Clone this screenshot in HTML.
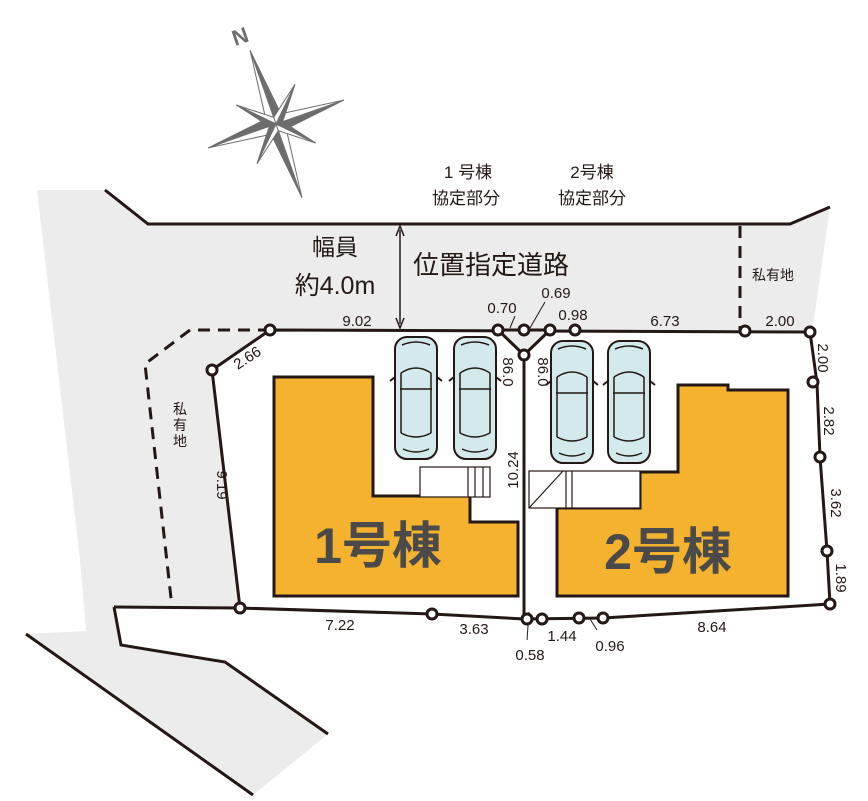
<!DOCTYPE html>
<html><head><meta charset="utf-8"><style>
html,body{margin:0;padding:0;background:#fff;}
svg{display:block;}
text{font-family:"Liberation Sans","Noto Sans CJK JP",sans-serif;fill:#231815;}
</style></head><body>
<svg width="868" height="801" viewBox="0 0 868 801" xmlns="http://www.w3.org/2000/svg">
<defs>
<g id="car">
<rect x="0" y="0" width="42" height="122" rx="12" fill="#d3e9ec" stroke="#231815" stroke-width="2"/>
<path d="M6 36 Q21 26 36 36 M5 52 L37 52 M6 96 Q21 104 36 96 M7 8 Q21 2 35 8 M8 112 Q21 118 34 112" fill="none" stroke="#231815" stroke-width="1.5"/>
<line x1="6" y1="36" x2="6" y2="96" stroke="#231815" stroke-width="1.5"/>
<line x1="36" y1="36" x2="36" y2="96" stroke="#231815" stroke-width="1.5"/>
<path d="M0 40 L-5 44 M42 40 L47 44" stroke="#231815" stroke-width="2"/>
</g>
</defs>
<polygon points="37,190 105,190 148,224 790,224 830,207 812,333 270,333 212,370 240,608 114,607 121,645 225,662 328,734 253,795 26,634 86,631 80,560" fill="#ececec"/>
<polygon points="270,330 212,370 240,608 432,614 524,619 603,618 830,604 827,551 820,457 817,383 810,332" fill="#fff"/>
<polyline points="105,190 148,224 790,224 830,207" fill="none" stroke="#231815" stroke-width="3"/>
<polyline points="114,607 240,608" fill="none" stroke="#231815" stroke-width="3"/>
<polyline points="114,607 121,645 225,662 328,734" fill="none" stroke="#231815" stroke-width="3"/>
<line x1="26" y1="634" x2="253" y2="795" stroke="#231815" stroke-width="3"/>
<polyline points="270,330 190,330 145,364 172,607" fill="none" stroke="#231815" stroke-width="3" stroke-dasharray="12,8"/>
<line x1="740" y1="226" x2="740" y2="330" stroke="#231815" stroke-width="3" stroke-dasharray="12,8"/>
<polygon points="274,377 373,377 373,496 470,496 470,522 518,522 518,596 274,596" fill="#f5b22e" stroke="#231815" stroke-width="3"/>
<polygon points="678,385 728,385 728,390 788,390 788,596 557,596 557,508 640,508 640,472 678,472" fill="#f5b22e" stroke="#231815" stroke-width="3"/>
<rect x="420" y="467" width="70" height="30" fill="#fff" stroke="#231815" stroke-width="1.2"/>
<path d="M468 467V497M475 467V497M483 467V497" stroke="#231815" stroke-width="1.2"/>
<rect x="529" y="471" width="111" height="37" fill="#fff" stroke="#231815" stroke-width="1.2"/>
<path d="M529 508L563 471M566 471V508M572 471V508" stroke="#231815" stroke-width="1.2"/>
<use href="#car" x="395" y="337"/>
<use href="#car" x="454" y="337"/>
<use href="#car" x="551" y="341"/>
<use href="#car" x="608" y="341"/>
<polygon points="270,330 212,370 240,608 432,614 524,619 603,618 830,604 827,551 820,457 817,383 810,332" fill="none" stroke="#231815" stroke-width="3"/>
<line x1="524" y1="355" x2="524" y2="619" stroke="#231815" stroke-width="3"/>
<polygon points="498,330 550,330 524,355" fill="#ececec" stroke="#231815" stroke-width="3"/>
<line x1="400" y1="230" x2="400" y2="324" stroke="#231815" stroke-width="1.5"/>
<path d="M396 236 L400 226 L404 236 M396 318 L400 328 L404 318" fill="none" stroke="#231815" stroke-width="1.5"/>
<path d="M510 328 L515 316 M530 328 L545 302 M529 612 L527 640 M590 619 L597 630" stroke="#231815" stroke-width="1"/>
<g fill="#fff" stroke="#231815" stroke-width="3">
<circle cx="270" cy="330" r="5"/><circle cx="212" cy="370" r="5"/><circle cx="240" cy="608" r="5"/>
<circle cx="432" cy="614" r="5"/><circle cx="527" cy="619" r="5"/><circle cx="542" cy="619" r="5"/>
<circle cx="579" cy="618" r="5"/><circle cx="603" cy="618" r="5"/><circle cx="830" cy="604" r="5"/>
<circle cx="827" cy="551" r="5"/><circle cx="820" cy="457" r="5"/><circle cx="813" cy="382" r="5"/>
<circle cx="810" cy="332" r="5"/><circle cx="745" cy="331" r="5"/>
<circle cx="498" cy="330" r="5"/><circle cx="524" cy="330" r="5"/><circle cx="550" cy="330" r="5"/><circle cx="575" cy="330" r="5"/><circle cx="524" cy="355" r="5"/>
</g>
<g transform="translate(276,124) rotate(-19.4)" fill="#6d6d6d" stroke="#6d6d6d" stroke-width="1">
<polygon points="0,-78 8,-8 0,0"/><polygon points="0,-78 -8,-8 0,0" fill="#fff"/>
<polygon points="0,78 -8,8 0,0"/><polygon points="0,78 8,8 0,0" fill="#fff"/>
<polygon points="-72,0 -8,-8 0,0"/><polygon points="-72,0 -8,8 0,0" fill="#fff"/>
<polygon points="72,0 8,8 0,0"/><polygon points="72,0 8,-8 0,0" fill="#fff"/>
<g transform="rotate(45)">
<polygon points="0,-44 5,-5 0,0"/><polygon points="0,-44 -5,-5 0,0" fill="#fff"/>
<polygon points="0,44 -5,5 0,0"/><polygon points="0,44 5,5 0,0" fill="#fff"/>
<polygon points="-44,0 -5,-5 0,0" fill="#fff"/><polygon points="-44,0 -5,5 0,0"/>
<polygon points="44,0 5,5 0,0" fill="#fff"/><polygon points="44,0 5,-5 0,0"/>
</g>
</g>
<text x="240" y="44" font-size="22" font-weight="bold" style="fill:#6d6d6d" transform="rotate(-19 240 36)" text-anchor="middle">N</text>
<g font-size="17" text-anchor="middle">
<text x="468" y="178">1 号棟</text><text x="466" y="204">協定部分</text>
<text x="592" y="178">2号棟</text><text x="592" y="204">協定部分</text>
</g>
<text x="335" y="255" font-size="23" text-anchor="middle">幅員</text>
<text x="335" y="294" font-size="25" text-anchor="middle">約4.0m</text>
<text x="413" y="274" font-size="26">位置指定道路</text>
<g font-size="15" text-anchor="middle">
<text x="357" y="326">9.02</text>
<text x="502" y="313">0.70</text>
<text x="556" y="298">0.69</text>
<text x="573" y="320">0.98</text>
<text x="665" y="326">6.73</text>
<text x="780" y="326">2.00</text>
<text x="340" y="630">7.22</text>
<text x="474" y="634">3.63</text>
<text x="530" y="660">0.58</text>
<text x="562" y="641">1.44</text>
<text x="610" y="651">0.96</text>
<text x="712" y="632">8.64</text>
</g>
<g font-size="15" text-anchor="middle">
<text transform="translate(250,362) rotate(-33)">2.66</text>
<text transform="translate(217,485) rotate(90)">9.19</text>
<text transform="translate(503,372) rotate(90)">86.0</text>
<text transform="translate(538,372) rotate(90)">86.0</text>
<text transform="translate(518,470) rotate(-90)">10.24</text>
<text transform="translate(818,358) rotate(90)">2.00</text>
<text transform="translate(824,421) rotate(90)">2.82</text>
<text transform="translate(831,503) rotate(90)">3.62</text>
<text transform="translate(836,578) rotate(90)">1.89</text>
</g>
<g font-size="14" text-anchor="middle">
<text x="180" y="414">私</text><text x="180" y="430">有</text><text x="180" y="446">地</text>
</g>
<text x="752" y="280" font-size="14">私有地</text>
<text x="378" y="563" font-size="50" font-weight="bold" text-anchor="middle" style="fill:#4a4a4a">1号棟</text>
<text x="668" y="569" font-size="50" font-weight="bold" text-anchor="middle" style="fill:#4a4a4a">2号棟</text>
</svg>
</body></html>
